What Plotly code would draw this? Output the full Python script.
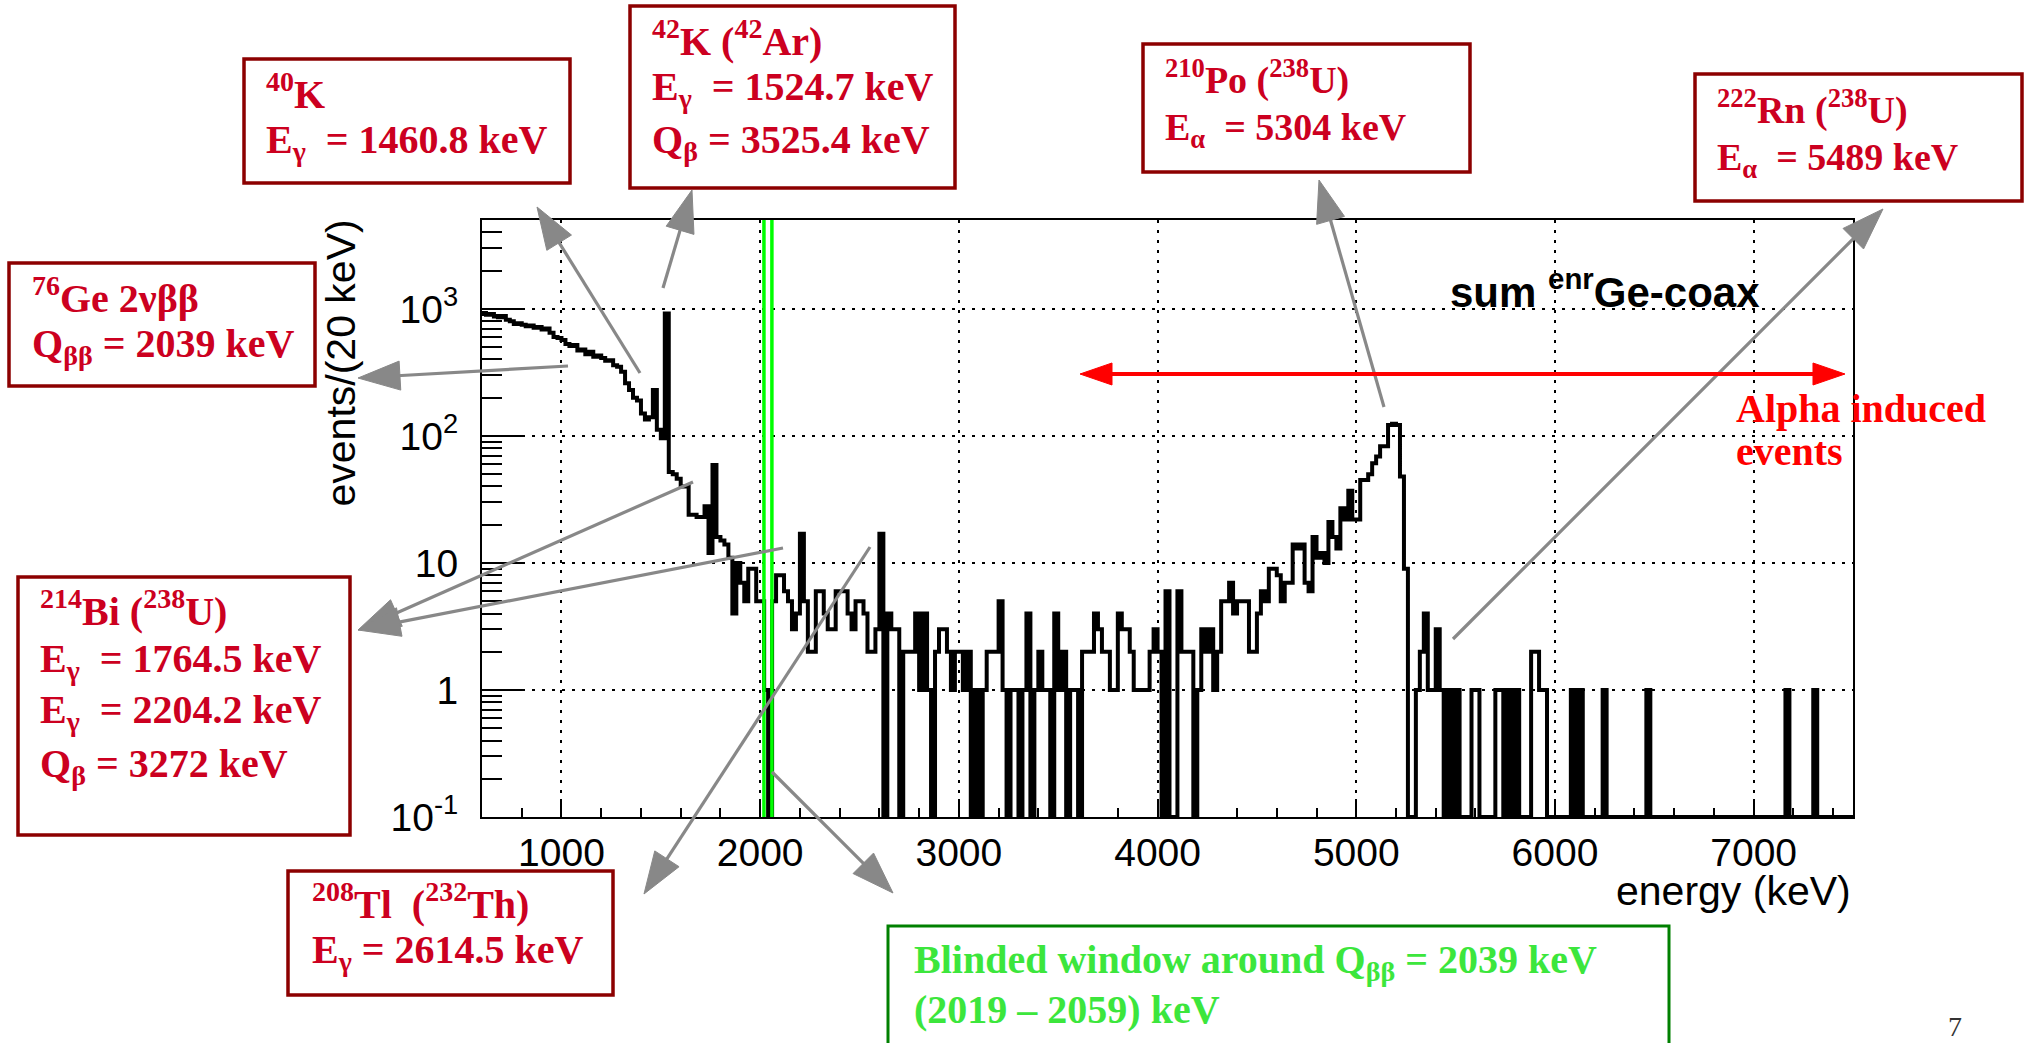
import math
import plotly.graph_objects as go

# ---------------------------------------------------------------
# Energy spectrum of the enriched coaxial Ge detectors
# counts per 20 keV bin, 600 - 7500 keV
# ---------------------------------------------------------------
E_START = 600
BIN_WIDTH = 20
E_STOP = 7500

# 600 - 1800 keV : 2nbb continuum with the 40K, 42K and 214Bi lines
counts_600_1800 = [
    930, 900, 910, 870, 860, 880, 820, 800, 760, 770,
    750, 730, 740, 710, 720, 690, 700, 650, 600, 590,
    570, 530, 510, 520, 470, 480, 440, 460, 420, 430,
    410, 390, 395, 360, 350, 320, 260, 230, 200, 190,
    150, 135, 140, 230, 112, 96, 920, 52, 50, 46,
    40, 40, 24, 24, 23, 23, 28, 12, 59, 16,
]
# 1800 - 2800 keV : region around Q_bb, 214Bi 2204 and 208Tl 2614 lines
counts_1800_2800 = [
    15, 14, 11, 4, 10, 7, 5, 9, 9, 5,
    5, 1, 0, 5, 8, 8, 6, 5, 3, 4,
    17, 5, 2, 2, 6, 6, 4, 3, 3, 6,
    6, 6, 4, 3, 5, 5, 4, 2, 2, 3,
    17, 0, 4, 3, 3, 0, 2, 2, 2, 4,
]
# 2800 - 4400 keV : flat low-count region
counts_2800_4400 = [
    1, 4, 1, 0, 2, 3, 3, 2, 1, 2,
    2, 1, 2, 0, 1, 0, 1, 2, 2, 2,
    5, 1, 0, 1, 1, 0, 1, 4, 0, 1,
    2, 1, 1, 0, 4, 1, 2, 0, 1, 1,
    0, 2, 2, 2, 4, 3, 2, 2, 1, 1,
    4, 3, 3, 2, 1, 1, 1, 1, 2, 3,
    2, 0, 6, 0, 0, 6, 2, 2, 2, 0,
    1, 3, 2, 3, 1, 2, 5, 5, 7, 4,
]
# 4400 - 5400 keV : degraded alpha tail and the 210Po peak
counts_4400_5400 = [
    5, 5, 5, 2, 2, 4, 6, 5, 9, 9,
    8, 5, 7, 7, 14, 13, 14, 7, 6, 16,
    11, 12, 10, 21, 16, 13, 27, 22, 37, 22,
    22, 45, 45, 50, 61, 69, 83, 83, 122, 125,
    122, 48, 9, 0, 0, 1, 2, 4, 1, 1,
]
# 5400 - 7500 keV : sparse high-energy alpha events
counts_5400_7500 = [
    3, 1, 0, 1, 0, 1, 0, 0, 0, 1,
    1, 0, 0, 0, 0, 1, 1, 0, 1, 0,
    1, 0, 0, 0, 2, 2, 1, 1, 0, 0,
    0, 0, 0, 0, 1, 0, 1, 0, 0, 0,
    0, 0, 1, 0, 0, 0, 0, 0, 0, 0,
    0, 0, 0, 1, 0, 0, 0, 0, 0, 0,
    0, 0, 0, 0, 0, 0, 0, 0, 0, 0,
    0, 0, 0, 0, 0, 0, 0, 0, 0, 0,
    0, 0, 0, 0, 0, 0, 0, 0, 1, 0,
    0, 0, 0, 0, 0, 1, 0, 0, 0, 0,
    0, 0, 0, 0, 0,
]

counts = (counts_600_1800 + counts_1800_2800 + counts_2800_4400
          + counts_4400_5400 + counts_5400_7500)
bin_edges = [E_START + BIN_WIDTH * i for i in range(len(counts) + 1)]
assert bin_edges[-1] == E_STOP

# blinded window around Q_bb
BLIND_LO, BLIND_HI = 2019, 2059

# axes
Y_MIN, Y_MAX = 0.1, 10 ** 3.7
x_tick_vals = [1000, 2000, 3000, 4000, 5000, 6000, 7000]
y_tick_vals = [0.1, 1, 10, 100, 1000]
y_tick_text = ["10<sup>-1</sup>", "1", "10", "10<sup>2</sup>", "10<sup>3</sup>"]
y_minor_vals = [m * 10 ** d for d in range(-1, 4) for m in range(2, 10)
                if m * 10 ** d <= Y_MAX]

# ---------------------------------------------------------------
# page geometry (pixels)
W, H = 2032, 1043
PL, PR, PT, PB = 482, 1853, 220, 817

SERIF = "Liberation Serif"
SANS = "Liberation Sans"
ASC = {SERIF: 0.891, SANS: 0.905}
DESC = {SERIF: 0.216, SANS: 0.212}

RED_TXT = "#CC0020"
RED_BOX = "#8C0000"
GRAY = "#888888"


def px(x):
    return (x - PL) / (PR - PL)


def py(y):
    return (PB - y) / (PB - PT)


fig = go.Figure()

# histogram outline; empty bins drop to the bottom of the frame
y_draw = [c if c > 0 else Y_MIN for c in counts]
fig.add_trace(go.Scatter(
    x=bin_edges, y=y_draw + [y_draw[-1]],
    mode="lines", line=dict(color="black", width=4, shape="hv"),
    hoverinfo="skip", showlegend=False,
))

shapes = []

# blinded window edges
for xb in (BLIND_LO, BLIND_HI):
    shapes.append(dict(type="line", xref="x", yref="paper", x0=xb, x1=xb,
                       y0=0, y1=1, line=dict(color="#00FF00", width=3.5),
                       layer="above"))


def arrow(tail, tip, color, width, head_len, head_w):
    dx, dy = tip[0] - tail[0], tip[1] - tail[1]
    L = math.hypot(dx, dy)
    ux, uy = dx / L, dy / L
    bx, by = tip[0] - head_len * ux, tip[1] - head_len * uy
    nx, ny = -uy, ux
    shapes.append(dict(type="line", xref="paper", yref="paper",
                       x0=px(tail[0]), y0=py(tail[1]),
                       x1=px(bx + 3 * ux), y1=py(by + 3 * uy),
                       line=dict(color=color, width=width), layer="above"))
    c1 = (bx + nx * head_w / 2, by + ny * head_w / 2)
    c2 = (bx - nx * head_w / 2, by - ny * head_w / 2)
    path = "M {:.5f},{:.5f} L {:.5f},{:.5f} L {:.5f},{:.5f} Z".format(
        px(tip[0]), py(tip[1]), px(c1[0]), py(c1[1]), px(c2[0]), py(c2[1]))
    shapes.append(dict(type="path", xref="paper", yref="paper", path=path,
                       fillcolor=color, line=dict(color=color, width=1),
                       layer="above"))


def box(x0, y0, x1, y1, color, width=3.5):
    shapes.append(dict(type="rect", xref="paper", yref="paper",
                       x0=px(x0), x1=px(x1), y0=py(y0), y1=py(y1),
                       fillcolor="white", line=dict(color=color, width=width),
                       layer="above"))


annotations = []


def label(x, baseline, text, size, color, family=SERIF, xanchor="left"):
    top = ASC[family] * size + (0.153 * size if "<sup>" in text else 0)
    bot = DESC[family] * size + (0.145 * size if "<sub>" in text else 0)
    yc = baseline + (bot - top) / 2
    annotations.append(dict(
        x=px(x), y=py(yc), xref="paper", yref="paper", text=text,
        showarrow=False, xanchor=xanchor, yanchor="middle",
        font=dict(family=family, size=size, color=color),
        borderpad=0, borderwidth=0))


# gray pointer arrows (tail, tip) in page pixels
pointer_arrows = [
    ((640, 373), (537, 207)),    # 40K
    ((663, 288), (692, 190)),    # 42K
    ((568, 366), (358, 378)),    # 76Ge 2nbb
    ((693, 482), (358, 630)),    # 214Bi 1764
    ((783, 548), (358, 630)),    # 214Bi 2204
    ((870, 547), (644, 894)),    # 208Tl
    ((772, 772), (893, 893)),    # blinded window
    ((1384, 407), (1319, 180)),  # 210Po
    ((1453, 639), (1883, 209)),  # 222Rn
]
for tail, tip in pointer_arrows:
    arrow(tail, tip, GRAY, 3.2, 42, 29)

# red double arrow: alpha induced region
arrow((1460, 374), (1080, 374), "#FF0000", 4, 32, 22)
arrow((1460, 374), (1845, 374), "#FF0000", 4, 32, 22)

# annotation boxes
box(244, 59, 570, 183, RED_BOX)       # 40K
box(630, 6, 955, 188, RED_BOX)        # 42K
box(9, 263, 315, 386, RED_BOX)        # 76Ge
box(1143, 44, 1470, 172, RED_BOX)     # 210Po
box(1695, 74, 2022, 201, RED_BOX)     # 222Rn
box(18, 577, 350, 835, RED_BOX)       # 214Bi
box(288, 871, 613, 995, RED_BOX)      # 208Tl
box(888, 926, 1669, 1070, "#008000", 3)  # blinded window

NB = "\u00a0"
F = 40
label(266, 108, "<b><sup>40</sup>K</b>", F, RED_TXT)
label(266, 153, "<b>E<sub>γ</sub>" + NB + " = 1460.8 keV</b>", F, RED_TXT)

label(652, 55, "<b><sup>42</sup>K (<sup>42</sup>Ar)</b>", F, RED_TXT)
label(652, 100, "<b>E<sub>γ</sub>" + NB + " = 1524.7 keV</b>", F, RED_TXT)
label(652, 153, "<b>Q<sub>β</sub> = 3525.4 keV</b>", F, RED_TXT)

label(32, 312, "<b><sup>76</sup>Ge 2νββ</b>", F, RED_TXT)
label(32, 357, "<b>Q<sub>ββ</sub> = 2039 keV</b>", F, RED_TXT)

label(1165, 93, "<b><sup>210</sup>Po (<sup>238</sup>U)</b>", 38, RED_TXT)
label(1165, 140, "<b>E<sub>α</sub>" + NB + " = 5304 keV</b>", 38, RED_TXT)

label(1717, 123, "<b><sup>222</sup>Rn (<sup>238</sup>U)</b>", 38, RED_TXT)
label(1717, 170, "<b>E<sub>α</sub>" + NB + " = 5489 keV</b>", 38, RED_TXT)

label(40, 625, "<b><sup>214</sup>Bi (<sup>238</sup>U)</b>", F, RED_TXT)
label(40, 672, "<b>E<sub>γ</sub>" + NB + " = 1764.5 keV</b>", F, RED_TXT)
label(40, 723, "<b>E<sub>γ</sub>" + NB + " = 2204.2 keV</b>", F, RED_TXT)
label(40, 777, "<b>Q<sub>β</sub> = 3272 keV</b>", F, RED_TXT)

label(312, 918, "<b><sup>208</sup>Tl" + NB + " (<sup>232</sup>Th)</b>", F, RED_TXT)
label(312, 963, "<b>E<sub>γ</sub> = 2614.5 keV</b>", F, RED_TXT)

label(914, 973, "<b>Blinded window around Q<sub>ββ</sub> = 2039 keV</b>", F, "#3CE63C")
label(914, 1023, "<b>(2019 – 2059) keV</b>", F, "#3CE63C")

label(1736, 422, "<b>Alpha induced</b>", 40, "#FF0000")
label(1736, 465, "<b>events</b>", 40, "#FF0000")

# histogram title inside the frame
label(1450, 307, "<b>sum <sup>enr</sup>Ge-coax</b>", 42, "black", family=SANS)

# axis titles
label(1851, 905, "energy (keV)", 41, "black", family=SANS, xanchor="right")
annotations.append(dict(
    x=px(340), y=1, xref="paper", yref="paper", text="events/(20 keV)",
    textangle=-90, showarrow=False, xanchor="center", yanchor="top",
    font=dict(family=SANS, size=41, color="black"), borderpad=0, borderwidth=0))

# slide page number
label(1948, 1036, "7", 28, "#333333")

fig.update_layout(
    width=W, height=H,
    margin=dict(l=PL, r=W - PR, t=PT, b=H - PB, autoexpand=False),
    paper_bgcolor="white", plot_bgcolor="white",
    showlegend=False,
    shapes=shapes, annotations=annotations,
    xaxis=dict(
        range=[E_START, E_STOP], tickmode="array", tickvals=x_tick_vals,
        ticks="inside", ticklen=18, tickwidth=2, tickcolor="black",
        minor=dict(dtick=200, tick0=0, ticks="inside", ticklen=9,
                   tickwidth=2, tickcolor="black", showgrid=False),
        showgrid=True, gridcolor="black", gridwidth=2, griddash="3px,7px",
        showline=True, linecolor="black", linewidth=2, mirror=True,
        zeroline=False, ticklabelstandoff=0,
        tickfont=dict(family=SANS, size=39, color="black"),
    ),
    yaxis=dict(
        type="log", range=[math.log10(Y_MIN), math.log10(Y_MAX)],
        tickmode="array", tickvals=y_tick_vals, ticktext=y_tick_text,
        ticks="inside", ticklen=40, tickwidth=2, tickcolor="black",
        minor=dict(tickmode="array", tickvals=y_minor_vals, ticks="inside",
                   ticklen=20, tickwidth=2, tickcolor="black", showgrid=False),
        showgrid=True, gridcolor="black", gridwidth=2, griddash="3px,7px",
        showline=True, linecolor="black", linewidth=2, mirror=True,
        zeroline=False, ticklabelstandoff=14,
        tickfont=dict(family=SANS, size=39, color="black"),
    ),
)

fig.write_html("out.html")
